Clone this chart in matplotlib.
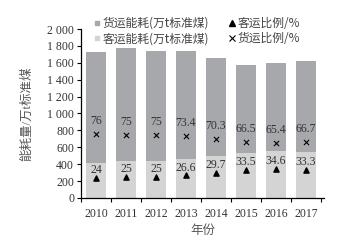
import numpy as np
import matplotlib.pyplot as plt
from matplotlib.lines import Line2D
from matplotlib.ticker import FuncFormatter

plt.rcParams['font.family'] = ['Liberation Serif', 'Noto Sans CJK SC']

# data
years = ['2010', '2011', '2012', '2013', '2014', '2015', '2016', '2017']
total = [1728, 1771, 1743, 1740, 1657, 1574, 1601, 1621]
pass_ratio = [24, 25, 25, 26.6, 29.7, 33.5, 34.6, 33.3]
freight_ratio = [76, 75, 75, 73.4, 70.3, 66.5, 65.4, 66.7]
pass_labels = ['24', '25', '25', '26.6', '29.7', '33.5', '34.6', '33.3']
freight_labels = ['76', '75', '75', '73.4', '70.3', '66.5', '65.4', '66.7']

total = np.array(total, dtype=float)
passenger = total * np.array(pass_ratio) / 100
freight = total - passenger

c_freight = '#a7a8ab'
c_pass = '#d4d4d4'
c_text = '#333333'

fig = plt.figure(figsize=(3.64, 2.42), dpi=100)
ax = fig.add_axes([0.2225, 0.182, 0.6675, 0.698])
x = np.arange(len(years))
ax.bar(x, passenger, width=0.667, color=c_pass, zorder=2)
ax.bar(x, freight, width=0.667, bottom=passenger, color=c_freight, zorder=2)

ax.set_ylim(0, 2000)
ax.set_xlim(-0.5, 7.6)
ax.set_yticks(np.arange(0, 2001, 200))
ax.yaxis.set_major_formatter(FuncFormatter(lambda v, p: f'{int(v):,}'.replace(',', ' ')))
ax.set_xticks(np.arange(-0.5, 8, 1))
ax.set_xticklabels([])
ax.set_xticks(x, minor=True)
ax.set_xticklabels(years, minor=True)
ax.tick_params(axis='x', which='minor', length=0, pad=7, labelsize=8.5, labelcolor=c_text)
ax.tick_params(axis='x', which='major', length=3, width=0.8)
ax.tick_params(axis='y', length=3, width=0.8, labelsize=8.5, pad=2, labelcolor=c_text)
for s in ['top', 'right']:
    ax.spines[s].set_visible(False)
ax.spines['left'].set_linewidth(0.9)
ax.spines['bottom'].set_linewidth(0.9)

ax.set_ylabel('能耗量/万t标准煤', fontsize=9, labelpad=10, color='#555555')
ax.set_xlabel('年份', fontsize=9, labelpad=4, color='#555555')

# ratios on a hidden 0-200 scale
ax2 = ax.twinx()
ax2.set_ylim(0, 200)
ax2.axis('off')
ax2.scatter(x, pass_ratio, marker='^', s=14, color='black', zorder=3)
ax2.scatter(x, freight_ratio, marker='x', s=14, color='black', linewidths=0.8, zorder=3)
for i in range(len(years)):
    ax2.annotate(pass_labels[i], (x[i], pass_ratio[i]), xytext=(0, 5.5), textcoords='offset points',
                 ha='center', va='center', fontsize=8.5, color=c_text)
    ax2.annotate(freight_labels[i], (x[i], freight_ratio[i]), xytext=(0, 9), textcoords='offset points',
                 ha='center', va='center', fontsize=8.5, color=c_text)

handles = [
    Line2D([], [], marker='s', ls='none', color=c_freight, markersize=3.5),
    Line2D([], [], marker='s', ls='none', color=c_pass, markersize=3.5),
    Line2D([], [], marker='^', ls='none', color='black', markersize=4),
    Line2D([], [], marker='x', ls='none', color='black', markersize=4, markeredgewidth=0.8),
]
labels = ['货运能耗(万t标准煤)', '客运能耗(万t标准煤)', '客运比例/%', '货运比例/%']
leg = fig.legend(handles, labels, ncol=2, loc='center', bbox_to_anchor=(0.54, 0.872),
                 frameon=False, handlelength=0.6, handletextpad=0.2,
                 columnspacing=1.6, labelspacing=0.2,
                 prop={'family': ['Noto Sans CJK SC'], 'size': 8.5})
for t in leg.get_texts():
    t.set_color('#444444')

fig.savefig('out.png', dpi=100)
